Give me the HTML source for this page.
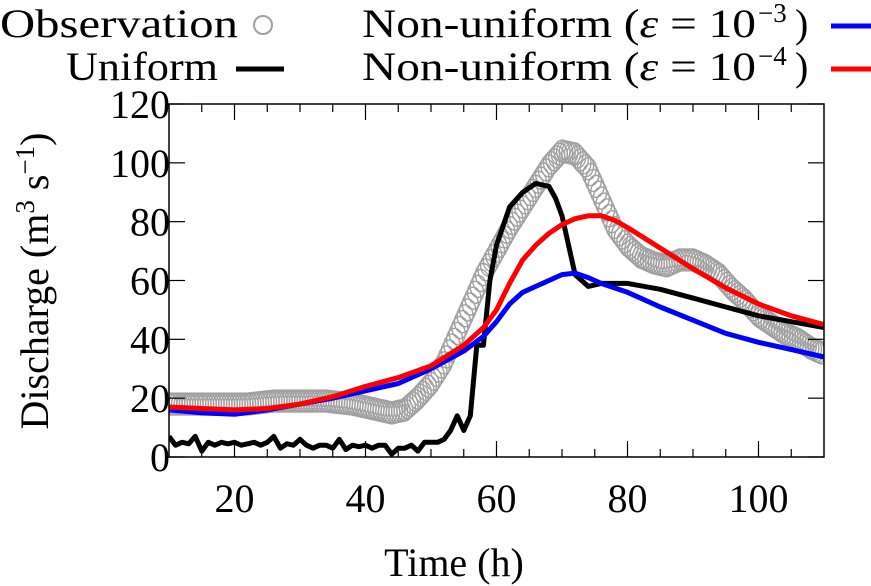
<!DOCTYPE html>
<html><head><meta charset="utf-8"><style>body{margin:0;background:#fff}svg{display:block}text{font-family:"Liberation Serif",serif;fill:#000}</style></head>
<body>
<svg id="chart" width="871" height="586" xmlns="http://www.w3.org/2000/svg">
<g id="legend">
 <text x="0" y="37" font-size="40" textLength="238" lengthAdjust="spacingAndGlyphs">Observation</text>
 <circle cx="263" cy="25" r="9" fill="none" stroke="#a0a0a0" stroke-width="2"/>
 <text x="66" y="80" font-size="40" textLength="152" lengthAdjust="spacingAndGlyphs">Uniform</text>
 <line x1="236" y1="69" x2="284" y2="69" stroke="#000" stroke-width="5"/>
 <g>
  <text x="362" y="37" font-size="40" textLength="394" lengthAdjust="spacingAndGlyphs">Non-uniform (<tspan font-style="italic">ε</tspan> = 10</text>
  <text x="758" y="22" font-size="27">−3</text>
  <text x="795" y="37" font-size="40">)</text>
 </g>
 <line x1="831" y1="26" x2="871" y2="26" stroke="#0000ff" stroke-width="5"/>
 <g>
  <text x="362" y="80" font-size="40" textLength="394" lengthAdjust="spacingAndGlyphs">Non-uniform (<tspan font-style="italic">ε</tspan> = 10</text>
  <text x="758" y="65" font-size="27">−4</text>
  <text x="795" y="80" font-size="40">)</text>
 </g>
 <line x1="831" y1="69" x2="871" y2="69" stroke="#ff0000" stroke-width="5"/>
</g>
<g id="plot"></g>
<text x="0" y="0" font-size="40" text-anchor="middle" transform="translate(48,281) rotate(-90)">Discharge (m<tspan font-size="27" dy="-14">3</tspan><tspan dy="14"> s</tspan><tspan font-size="27" dy="-14">−1</tspan><tspan dy="14">)</tspan></text>
<text x="454" y="576" font-size="40" text-anchor="middle">Time (h)</text>
</svg>
<script>
const xTicks=[20,40,60,80,100];
const yTicks=[0,20,40,60,80,100,120];
const obsTime=[10,12,14,16,18,20,22,24,26,28,30,32,34,36,38,40,42,44,46,48,50,52,54,56,58,60,62,64,66,68,70,72,74,76,78,80,82,84,86,88,90,92,94,96,98,100,102,104,106,108,110];
const obsVal=[18,18,18,18,18,18,18,18.5,19,19,19,19,19,18.5,18,17,16,15,16,20,25,32,42,52,62,70,78,85,92,99,104,103,98,88,78,72,68,66,65,67,67,65,62,57,53,48,45,42,40,37,35];
const uniTime=[10,11,12,13,14,15,16,17,18,19,20,21,22,23,24,25,26,27,28,29,30,31,32,33,34,35,36,37,38,39,40,41,42,43,44,45,46,47,48,49,50,51,52,53,54,55,56,57,58,59,60,62,64,66,68,69,70,72,74,76,78,80,85,90,95,100,105,110];
const uniVal=[7,4,5,4.5,7,2,5,4,5,4.5,5,4,4.5,5,4,5,7,3,4.5,4,6,4,3,4,4,3,6,2.5,4,3.5,4,3,4,4,1,3,3,4,2,5,5,5,6,9,14,9,14,38,38,60,72,85,90,93,92,88,82,62,58,59,59,59,57,54,51,48,46,44];
const modTime=[10,15,20,25,30,35,40,45,50,55,58,60,62,64,66,68,70,72,74,76,78,80,85,90,95,100,105,110];
const eps3Val=[16,15,14.5,16,18,20,22.5,25,30,36,41,46,52,56,58,60,62,62.5,61,59,57.5,56,51,46.5,42,39,36.5,34];
const eps4Val=[17,16.5,16,16.5,18,20.5,24,27,31,38,44,50,59,67,72,76,79,81,82,82,80.5,78,71,64,57.5,52,48,45];
const NS="http://www.w3.org/2000/svg";
const L=169,R=824,T=104,B=457,XMIN=10,XMAX=110,YMIN=0,YMAX=120;
const sx=v=>L+(v-XMIN)/(XMAX-XMIN)*(R-L);
const sy=v=>B-(v-YMIN)/(YMAX-YMIN)*(B-T);
const plot=document.getElementById('plot');
function mk(tag,at,parent){const e=document.createElementNS(NS,tag);for(const k in at)e.setAttribute(k,at[k]);(parent||plot).appendChild(e);return e;}
const defs=mk('clipPath',{id:'clip'});mk('rect',{x:L,y:T,width:R-L,height:B-T},defs);
const obsG=mk('g',{'clip-path':'url(#clip)'});


for(let i=0;i<obsTime.length-1;i++){for(let k=0;k<5;k++){const f=k/5;const t=obsTime[i]+f*(obsTime[i+1]-obsTime[i]);const v=obsVal[i]+f*(obsVal[i+1]-obsVal[i]);
 const c=mk('ellipse',{cx:sx(t),cy:sy(v),rx:8,ry:11,fill:'none',stroke:'#a0a0a0','stroke-width':1.4},obsG);
 
 }}
function line(ts,vs,col,name){const d=ts.map((t,i)=>(i?'L':'M')+sx(t).toFixed(1)+','+sy(vs[i]).toFixed(1)).join('');
 const p=mk('path',{d:d,fill:'none',stroke:col,'stroke-width':5,'stroke-linejoin':'round','clip-path':'url(#clip)'});
 
 }
line(uniTime,uniVal,'#000','uniform-line');
line(modTime,eps3Val,'#0000ff','eps3-line');
line(modTime,eps4Val,'#ff0000','eps4-line');
const frame=mk('rect',{x:L,y:T,width:R-L,height:B-T,fill:'none',stroke:'#000','stroke-width':1.5});


for(let t=15;t<110;t+=5){const major=t%20===0;const len=major?16:8;
 mk('line',{x1:sx(t),y1:B,x2:sx(t),y2:B-len,stroke:'#000','stroke-width':1.2});
 mk('line',{x1:sx(t),y1:T,x2:sx(t),y2:T+len,stroke:'#000','stroke-width':1.2});}
xTicks.forEach(t=>{const e=mk('text',{x:sx(t),y:B+55,'font-size':40,'text-anchor':'middle'});e.textContent=t;
 
 });
yTicks.forEach(v=>{mk('line',{x1:L,y1:sy(v),x2:L+16,y2:sy(v),stroke:'#000','stroke-width':1.2});mk('line',{x1:R,y1:sy(v),x2:R-16,y2:sy(v),stroke:'#000','stroke-width':1.2});
 const e=mk('text',{x:170,y:sy(v)+14,'font-size':40,'text-anchor':'end'});e.textContent=v;
 
 });
</script>
</body></html>
